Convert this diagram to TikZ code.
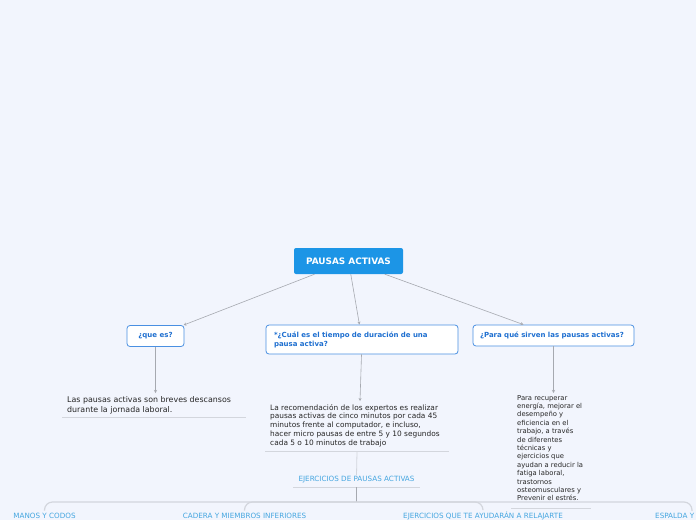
\documentclass[tikz,border=0pt]{standalone}
\usepackage{fontspec}
\setmainfont{DejaVu Sans}
\definecolor{mapbg}{HTML}{F2F5FD}
\definecolor{rootblue}{HTML}{1C95E6}
\definecolor{topicblue}{HTML}{1E6FD0}
\definecolor{topicline}{HTML}{4A90E2}
\definecolor{edgegray}{HTML}{A6A9B0}
\definecolor{rulegray}{HTML}{D3D6DD}
\definecolor{labelblue}{HTML}{45A6E0}
\usetikzlibrary{arrows.meta}

\begin{document}
\begin{tikzpicture}[x=1pt,y=-1pt,
    rootbox/.style={fill=rootblue,rounded corners=2pt,text=white,
      font=\bfseries\fontsize{8.9}{9}\selectfont,minimum width=109pt,minimum height=26pt},
    topicbox/.style={draw=topicline,fill=white,rounded corners=3pt,line width=0.8pt,
      text=topicblue,font=\bfseries\fontsize{7}{9}\selectfont,minimum height=21pt},
    note/.style={anchor=north west,inner sep=0pt,align=left,text=black!85},
    sublabel/.style={text=labelblue,font=\fontsize{7.2}{8}\selectfont,inner sep=1pt},
    edge/.style={draw=edgegray,line width=0.6pt,-{Stealth[length=3pt,width=3pt]}},
    rule/.style={draw=rulegray,line width=0.8pt},
    branch/.style={draw=rulegray,line width=1.2pt,rounded corners=8pt}]
      \fill[mapbg] (0,0) rectangle (696,520);
      \useasboundingbox (0,0) rectangle (696,520);
      % main topic and its three questions
      \node[rootbox] (root) at (348.5,261) {PAUSAS ACTIVAS};
      \node[topicbox,minimum width=57pt] (quees) at (155.5,336) {¿que es?};
      \node[topicbox,minimum width=192pt,minimum height=29pt,text width=176pt,align=left]
        (cual) at (362,339.5) {*¿Cuál es el tiempo de duración de una\\pausa activa?};
      \node[topicbox,minimum width=161pt,text width=147pt,align=left]
        (para) at (553.5,335.5) {¿Para qué sirven las pausas activas?};
      \draw[edge] (root) -- (quees);
      \draw[edge] (root) -- (cual);
      \draw[edge] (root) -- (para);
      % answers
      \node[note,font=\fontsize{7.9}{10}\selectfont] (defin) at (67,396)
        {Las pausas activas son breves descansos\\durante la jornada laboral.};
      \node[note,font=\fontsize{7.4}{8.8}\selectfont] (tiempo) at (270,404)
        {La recomendación de los expertos es realizar\\pausas activas de cinco minutos por cada 45\\minutos frente al computador, e incluso,\\hacer micro pausas de entre 5 y 10 segundos\\cada 5 o 10 minutos de trabajo};
      \node[note,font=\fontsize{6.8}{8.4}\selectfont] (sirven) at (517,395)
        {Para recuperar\\energía, mejorar el\\desempeño y\\eficiencia en el\\trabajo, a través\\de diferentes\\técnicas y\\ejercicios que\\ayudan a reducir la\\fatiga laboral,\\trastornos\\osteomusculares y\\Prevenir el estrés.};
      \draw[edge] (quees) -- ([yshift=3pt]quees |- defin.north);
      \draw[edge] (cual) -- ([xshift=-2pt,yshift=3pt]cual |- tiempo.north);
      \draw[edge] (para) -- ([yshift=2pt]para |- sirven.north);
      \draw[rule] (62,417) -- (246,417);
      \draw[rule] (265,451) -- (449,451);
      \draw[rule] (511,508) -- (591,508);
      % exercises
      \node[sublabel] (ejercicios) at (356.5,480) {EJERCICIOS DE PAUSAS ACTIVAS};
      \draw[rule] (357,452) -- (ejercicios.north);
      \draw[rule] (293,487) -- (420,487);
      \coordinate (hub) at (356.5,502);
      \draw[draw=edgegray,line width=0.8pt] (356.5,487) -- (hub);
      \foreach \nm/\xx/\txt in {manos/44.5/MANOS Y CODOS,
          cadera/244.5/CADERA Y MIEMBROS INFERIORES,
          relax/483/EJERCICIOS QUE TE AYUDARÁN A RELAJARTE}{
        \node[sublabel] (\nm) at (\xx,515.5) {\txt};
        \draw[branch] (hub) -| ([yshift=1pt]\nm.north);
      }
      \node[sublabel,anchor=west] (espalda) at (654,515.5) {ESPALDA Y};
      \coordinate (espcorner) at (692,511);
      \draw[branch] (hub) -| (espcorner);
    \end{tikzpicture}
\end{document}
